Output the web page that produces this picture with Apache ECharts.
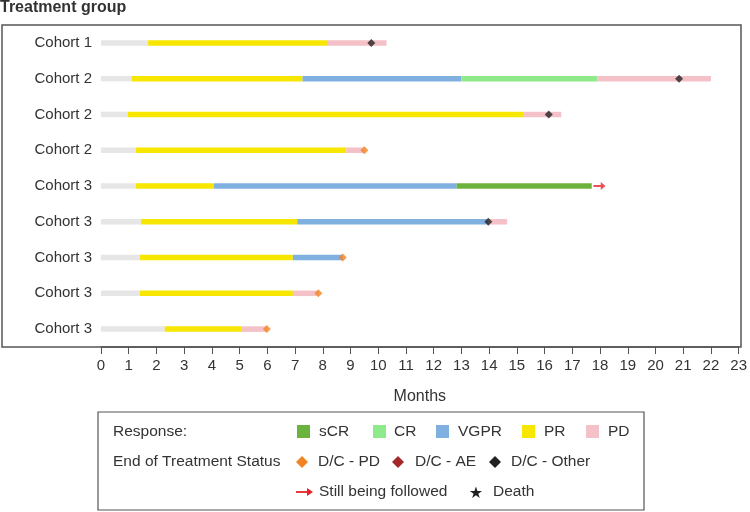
<!DOCTYPE html>
<html>
<head>
<meta charset="utf-8">
<script src="https://cdn.jsdelivr.net/npm/echarts@6/dist/echarts.min.js"></script>
<style>
html,body{margin:0;padding:0;background:#fff;}
#chart{width:750px;height:512px;}
</style>
</head>
<body>
<div id="chart"></div>
<script>
// ---- data ----
const categories = ['Cohort 1','Cohort 2','Cohort 2','Cohort 2','Cohort 3','Cohort 3','Cohort 3','Cohort 3','Cohort 3'];
const xTicks = [0,1,2,3,4,5,6,7,8,9,10,11,12,13,14,15,16,17,18,19,20,21,22,23];
// segments: [start, end, rowIndex]
const preTreatment = [[0,1.7,0],[0,1.1,1],[0,0.97,2],[0,1.26,3],[0,1.26,4],[0,1.44,5],[0,1.4,6],[0,1.4,7],[0,2.3,8]];
const sCR  = [[12.83,17.7,4]];
const CR   = [[13.0,17.9,1]];
const VGPR = [[7.27,13.0,1],[4.07,12.83,4],[7.08,13.97,5],[6.92,8.72,6]];
const PR   = [[1.7,8.15,0],[1.1,7.27,1],[0.97,15.25,2],[1.26,8.85,3],[1.26,4.07,4],[1.44,7.08,5],[1.4,6.92,6],[1.4,6.92,7],[2.3,5.06,8]];
const PD   = [[8.15,10.3,0],[17.9,22.0,1],[15.25,16.6,2],[8.85,9.5,3],[13.97,14.65,5],[6.92,7.84,7],[5.06,5.98,8]];
// markers: [month, rowIndex]
const dcPD    = [[9.5,3],[8.72,6],[7.84,7],[5.98,8]];
const dcAE    = [];
const dcOther = [[9.75,0],[20.85,1],[16.15,2],[13.97,5]];
const followed = [[17.98,4]];
const death = [];

const C = {pre:'#e6e6e6', sCR:'#6cb33e', CR:'#8fea8c', VGPR:'#80b0e0', PR:'#f7e600', PD:'#f5c1c9',
  dcPD:'#f28322', dcAE:'#a3282a', dcOther:'#222222', arrow:'#e3242b'};
const FONT = 'Liberation Sans, Arial, sans-serif';
const LF = 15.5;

function segSeries(name, data, color){
  return {
    type:'custom', name, data, z: 2,
    encode:{x:[0,1], y:2},
    renderItem(params, api){
      const s = api.coord([api.value(0), api.value(2)]);
      const e = api.coord([api.value(1), api.value(2)]);
      const h = 5.5;
      return {type:'rect', shape:{x:s[0], y:s[1]-h/2, width:e[0]-s[0], height:h}, style:{fill:color}};
    }
  };
}
function dia(cx, cy, r, color){
  return {type:'polygon', shape:{points:[[cx,cy-r],[cx+r,cy],[cx,cy+r],[cx-r,cy]]}, style:{fill:color}};
}
function txt(x, y, t, size){
  return {type:'text', style:{x, y, text:t, font: size+'px '+FONT, fill:'#333', verticalAlign:'middle', align:'left'}};
}
function sq(x, y, color){
  return {type:'rect', shape:{x:x, y:y-7, width:13, height:13}, style:{fill:color}};
}

const chart = echarts.init(document.getElementById('chart'));
const legendY = [432, 462, 492];
chart.setOption({
  animation:false,
  grid:{left:101, right:10, top:25, bottom:165},
  xAxis:{type:'value', min:0, max:23, interval:1,
    name:'Months', nameLocation:'middle', nameGap:42,
    nameTextStyle:{fontSize:16, color:'#333', fontFamily:FONT},
    axisLine:{show:true, lineStyle:{color:'#555', width:1.5}},
    axisTick:{show:true, length:7, lineStyle:{color:'#555'}},
    axisLabel:{fontSize:15, color:'#333', fontFamily:FONT, margin:11,
      formatter:v => xTicks.includes(v) ? String(v) : ''},
    splitLine:{show:false}
  },
  yAxis:{type:'category', data:categories, inverse:true,
    axisLine:{show:false}, axisTick:{show:false},
    axisLabel:{fontSize:15, color:'#333', fontFamily:FONT, margin:9}
  },
  graphic:[
    {type:'text', left:0, top:0, style:{text:'Treatment group', font:'bold 16px '+FONT, fill:'#333'}},
    {type:'rect', shape:{x:2, y:25, width:739, height:322}, style:{fill:'none', stroke:'#555', lineWidth:1.5}, z:-1},
    {type:'group', children:[
      {type:'rect', shape:{x:98, y:412, width:546, height:98}, style:{fill:'none', stroke:'#555', lineWidth:1.2}},
      txt(113, legendY[0], 'Response:', LF),
      sq(297, legendY[0], C.sCR), txt(319, legendY[0], 'sCR', LF),
      sq(373, legendY[0], C.CR), txt(394, legendY[0], 'CR', LF),
      sq(436, legendY[0], C.VGPR), txt(458, legendY[0], 'VGPR', LF),
      sq(522, legendY[0], C.PR), txt(544, legendY[0], 'PR', LF),
      sq(586, legendY[0], C.PD), txt(608, legendY[0], 'PD', LF),
      txt(113, legendY[1], 'End of Treatment Status', LF),
      dia(302, legendY[1], 6, C.dcPD), txt(318, legendY[1], 'D/C - PD', LF),
      dia(398, legendY[1], 6, C.dcAE), txt(415, legendY[1], 'D/C - AE', LF),
      dia(495, legendY[1], 6, C.dcOther), txt(511, legendY[1], 'D/C - Other', LF),
      {type:'line', shape:{x1:296, y1:legendY[2], x2:309, y2:legendY[2]}, style:{stroke:C.arrow, lineWidth:1.8}},
      {type:'polygon', shape:{points:[[313,legendY[2]],[307,legendY[2]-4],[307,legendY[2]+4]]}, style:{fill:C.arrow}},
      txt(319, legendY[2], 'Still being followed', LF),
      {type:'text', style:{x:476, y:legendY[2]+2, text:'★', font:'16px DejaVu Sans', fill:'#222', align:'center', verticalAlign:'middle'}},
      txt(493, legendY[2], 'Death', LF)
    ]}
  ],
  series:[
    segSeries('pre', preTreatment, C.pre),
    segSeries('PR', PR, C.PR),
    segSeries('VGPR', VGPR, C.VGPR),
    segSeries('CR', CR, C.CR),
    segSeries('sCR', sCR, C.sCR),
    segSeries('PD', PD, C.PD),
    {type:'scatter', name:'D/C - PD', data:dcPD, symbol:'diamond', symbolSize:8, itemStyle:{color:C.dcPD}, z:5},
    {type:'scatter', name:'D/C - AE', data:dcAE, symbol:'diamond', symbolSize:8, itemStyle:{color:C.dcAE}, z:5},
    {type:'scatter', name:'D/C - Other', data:dcOther, symbol:'diamond', symbolSize:8, itemStyle:{color:C.dcOther}, z:5},
    {type:'scatter', name:'Still being followed', data:followed,
      symbol:'path://M0,3.1 L8.5,3.1 L8.5,0 L14,4 L8.5,8 L8.5,4.9 L0,4.9 Z', symbolSize:[12,8], itemStyle:{color:C.arrow}, z:5},
    {type:'scatter', name:'Death', data:death, symbol:'path://M5,0 L6.2,3.6 L10,3.6 L6.9,5.8 L8.1,9.5 L5,7.2 L1.9,9.5 L3.1,5.8 L0,3.6 L3.8,3.6 Z', symbolSize:10, itemStyle:{color:'#222'}, z:5}
  ]
});
</script>
</body>
</html>
